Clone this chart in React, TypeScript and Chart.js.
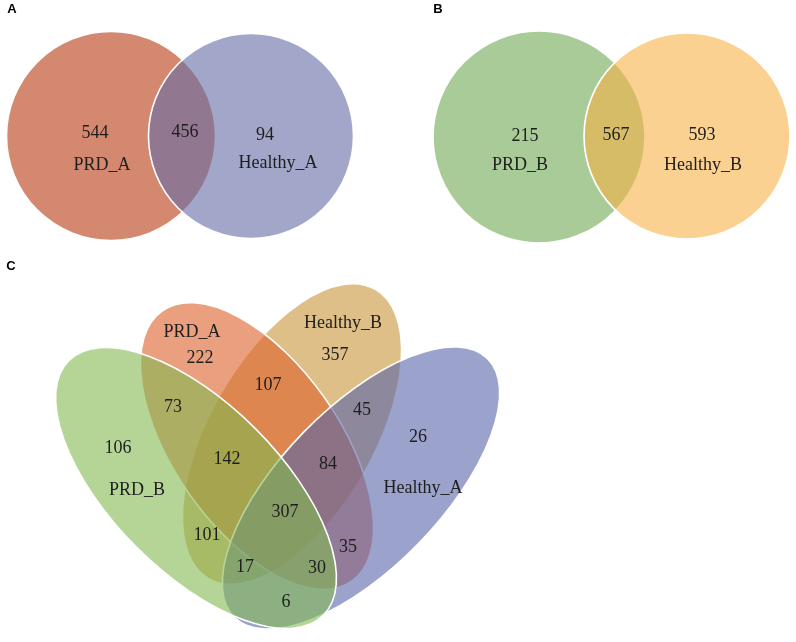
import React, { useEffect, useRef } from "react";
import { Chart, registerables } from "chart.js";

Chart.register(...registerables);

const W = 796;
const H = 642;

// ---------- data ----------
const panelLetters = ["A", "B", "C"];

// Panel A: PRD_A only, shared, Healthy_A only
const setsA = ["PRD_A", "Healthy_A"];
const countsA = [544, 456, 94];

// Panel B: PRD_B only, shared, Healthy_B only
const setsB = ["PRD_B", "Healthy_B"];
const countsB = [215, 567, 593];

// Panel C: sets (A=PRD_A, B=Healthy_B, C=PRD_B, D=Healthy_A)
const setsC = ["PRD_A", "Healthy_B", "PRD_B", "Healthy_A"];
const regionsC = ["A", "B", "AB", "C", "AC", "ABC", "BD", "ABD", "D", "ABCD", "BC", "AD", "BCD", "ACD", "CD"];
const countsC = [222, 357, 107, 106, 73, 142, 45, 84, 26, 307, 101, 35, 17, 30, 6];

// ---------- layout (chart units == pixels) ----------
type Shape = { cx: number; cy: number; a: number; b: number; rot: number; fill: string };

const shapesA: Shape[] = [
  { cx: 111, cy: 136, a: 104.5, b: 104.5, rot: 0, fill: "rgba(183,57,15,0.6)" },
  { cx: 251, cy: 136, a: 102.5, b: 102.5, rot: 0, fill: "rgba(100,108,165,0.6)" },
];
const shapesB: Shape[] = [
  { cx: 539, cy: 137, a: 106, b: 106, rot: 0, fill: "rgba(110,168,83,0.6)" },
  { cx: 687, cy: 136, a: 103, b: 103, rot: 0, fill: "rgba(247,178,72,0.6)" },
];
// draw order: Healthy_B, PRD_A, Healthy_A, PRD_B
const shapesC: Shape[] = [
  { cx: 292, cy: 434, a: 167, b: 82, rot: -60, fill: "rgba(202,148,57,0.6)" },
  { cx: 257, cy: 446, a: 165, b: 83, rot: 55, fill: "rgba(220,97,42,0.6)" },
  { cx: 361, cy: 488, a: 181, b: 80, rot: -45.75, fill: "rgba(88,100,170,0.6)" },
  { cx: 196, cy: 488, a: 180, b: 84, rot: 45, fill: "rgba(130,185,80,0.6)" },
];

const letterPos = [
  { x: 12, y: 9 },
  { x: 438, y: 9 },
  { x: 11, y: 266 },
];
const countPosA = [
  { x: 95, y: 133 },
  { x: 185, y: 132 },
  { x: 265, y: 135 },
];
const setPosA = [
  { x: 102, y: 165 },
  { x: 278, y: 163 },
];
const countPosB = [
  { x: 525, y: 136 },
  { x: 616, y: 135 },
  { x: 702, y: 135 },
];
const setPosB = [
  { x: 520, y: 165 },
  { x: 703, y: 165 },
];
// same order as regionsC
const countPosC = [
  { x: 200, y: 358 },
  { x: 335, y: 355 },
  { x: 268, y: 385 },
  { x: 118, y: 448 },
  { x: 173, y: 407 },
  { x: 227, y: 459 },
  { x: 362, y: 410 },
  { x: 328, y: 464 },
  { x: 418, y: 437 },
  { x: 285, y: 512 },
  { x: 207, y: 535 },
  { x: 348, y: 547 },
  { x: 245, y: 567 },
  { x: 317, y: 568 },
  { x: 286, y: 602 },
];
const setPosC = [
  { x: 192, y: 332 },
  { x: 343, y: 323 },
  { x: 137, y: 490 },
  { x: 423, y: 488 },
];

const SERIF = "18px 'Liberation Serif', 'Times New Roman', serif";
const SANS_BOLD = "bold 13px 'Liberation Sans', Arial, sans-serif";

function mk(pos: { x: number; y: number }[], texts: (string | number)[], font: string) {
  return {
    type: "scatter" as const,
    data: pos.map((p, i) => ({ x: p.x, y: p.y, text: String(texts[i]) })),
    pointRadius: 0,
    pointHoverRadius: 0,
    showLine: false,
    font,
  };
}

const vennPlugin = {
  id: "venn",
  beforeDatasetsDraw(chart: any) {
    const { ctx, scales } = chart;
    const xs = scales.x;
    const ys = scales.y;
    const all = [shapesA, shapesB, shapesC];
    ctx.save();
    for (const group of all) {
      for (const s of group) {
        const px = xs.getPixelForValue(s.cx);
        const py = ys.getPixelForValue(s.cy);
        const ra = Math.abs(xs.getPixelForValue(s.cx + s.a) - px);
        const rb = Math.abs(xs.getPixelForValue(s.cx + s.b) - px);
        ctx.beginPath();
        ctx.ellipse(px, py, ra, rb, (s.rot * Math.PI) / 180, 0, Math.PI * 2);
        ctx.fillStyle = s.fill;
        ctx.fill();
        ctx.lineWidth = 1.6;
        ctx.strokeStyle = "#ffffff";
        ctx.stroke();
      }
    }
    ctx.restore();
  },
  afterDatasetsDraw(chart: any) {
    const { ctx } = chart;
    ctx.save();
    ctx.textAlign = "center";
    ctx.textBaseline = "middle";
    chart.data.datasets.forEach((ds: any, i: number) => {
      const meta = chart.getDatasetMeta(i);
      ctx.font = ds.font;
      ctx.fillStyle = ds.font === SANS_BOLD ? "#000" : "#1e1e1e";
      meta.data.forEach((el: any, j: number) => {
        ctx.fillText(ds.data[j].text, el.x, el.y);
      });
    });
    ctx.restore();
  },
};

export default function App() {
  const ref = useRef<HTMLCanvasElement>(null);
  useEffect(() => {
    const canvas = ref.current!;
    const chart = new Chart(canvas, {
      type: "scatter",
      data: {
        datasets: [
          mk(letterPos, panelLetters, SANS_BOLD),
          mk(countPosA, countsA, SERIF),
          mk(setPosA, setsA, SERIF),
          mk(countPosB, countsB, SERIF),
          mk(setPosB, setsB, SERIF),
          mk(countPosC, countsC, SERIF),
          mk(setPosC, setsC, SERIF),
        ] as any,
      },
      options: {
        animation: false,
        responsive: false,
        devicePixelRatio: 1,
        events: [],
        layout: { padding: 0 },
        plugins: { legend: { display: false }, tooltip: { enabled: false } },
        scales: {
          x: { type: "linear", min: 0, max: W, display: false },
          y: { type: "linear", min: 0, max: H, reverse: true, display: false },
        },
      },
      plugins: [vennPlugin],
    });
    return () => chart.destroy();
  }, []);
  return (
    <div style={{ position: "fixed", left: 0, top: 0, width: W, height: H, background: "#fff" }}>
      <canvas ref={ref} width={W} height={H} style={{ display: "block", width: W, height: H }} />
    </div>
  );
}
